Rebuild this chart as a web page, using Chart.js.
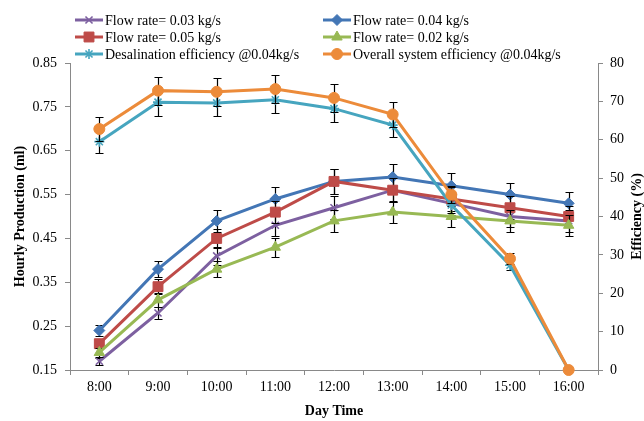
<!DOCTYPE html>
<html>
<head>
<meta charset="utf-8">
<title>Hourly production and efficiency</title>
<script src="https://cdn.jsdelivr.net/npm/chart.js@4.4.0/dist/chart.umd.min.js"></script>
<style>
  html, body { margin: 0; padding: 0; background: #fff; }
  #wrap { position: relative; width: 644px; height: 421px; }
</style>
</head>
<body>
<div id="wrap"><canvas id="production_chart"></canvas></div>
<script>
// Hours of the day (x axis)
var dayTimes = ['8:00', '9:00', '10:00', '11:00', '12:00', '13:00', '14:00', '15:00', '16:00'];

// Hourly production (ml) for each flow rate, left axis
var flow003 = [0.17, 0.28, 0.41, 0.48, 0.52, 0.56, 0.53, 0.50, 0.49];
var flow004 = [0.24, 0.38, 0.49, 0.54, 0.58, 0.59, 0.57, 0.55, 0.53];
var flow005 = [0.21, 0.34, 0.45, 0.51, 0.58, 0.56, 0.54, 0.52, 0.50];
var flow002 = [0.19, 0.31, 0.38, 0.43, 0.49, 0.51, 0.50, 0.49, 0.48];

// Efficiencies (%) at 0.04 kg/s, right axis
var desalEfficiency = [59.5, 69.8, 69.6, 70.4, 68.1, 63.8, 43.0, 27.3, 0];
var overallEfficiency = [62.8, 72.8, 72.5, 73.2, 70.9, 66.6, 45.7, 29.0, 0];

// Tick labels
var productionTicks = [0.15, 0.25, 0.35, 0.45, 0.55, 0.65, 0.75, 0.85];
var efficiencyTicks = [0, 10, 20, 30, 40, 50, 60, 70, 80];

// Percentage error bars on every point
var errorPercent = 5;

var serifFont = '"Liberation Serif", "Times New Roman", serif';
var axisGrey = '#898989';

function makeSeries(label, values, color, style, radius, axis, idx) {
    var stroked = (style === 'crossRot' || style === 'star');
    return {
        label: label,
        data: values,
        yAxisID: axis,
        borderColor: color,
        backgroundColor: color,
        borderWidth: 3,
        tension: 0,
        pointStyle: style,
        pointRadius: radius,
        pointHoverRadius: radius,
        pointBackgroundColor: color,
        pointBorderColor: color,
        pointBorderWidth: stroked ? 1.6 : 1,
        clip: false,
        order: 5 - idx
    };
}

var datasets = [
    makeSeries('Flow rate= 0.03 kg/s', flow003, '#7D60A0', 'crossRot', 5, 'y', 0),
    makeSeries('Flow rate= 0.04 kg/s', flow004, '#4376B5', 'rectRot', 5.5, 'y', 1),
    makeSeries('Flow rate= 0.05 kg/s', flow005, '#BE4B48', 'rect', 7, 'y', 2),
    makeSeries('Flow rate= 0.02 kg/s', flow002, '#98B954', 'triangle', 6, 'y', 3),
    makeSeries('Desalination efficiency @0.04kg/s', desalEfficiency, '#46A5BF', 'star', 5, 'y1', 4),
    makeSeries('Overall system efficiency @0.04kg/s', overallEfficiency, '#EC8B3A', 'circle', 5.5, 'y1', 5)
];

// Black error bars, drawn with each series so later series cover them
var errorBarsPlugin = {
    id: 'errorBars',
    beforeDatasetDraw: function (chart, args) {
        var ds = chart.data.datasets[args.index];
        var scale = chart.scales[ds.yAxisID];
        var ctx = chart.ctx;
        ctx.save();
        ctx.strokeStyle = '#000';
        ctx.lineWidth = 1.2;
        args.meta.data.forEach(function (pt, i) {
            var v = ds.data[i];
            if (!v) return;
            var delta = v * errorPercent / 100;
            var yTop = Math.round(scale.getPixelForValue(v + delta)) + 0.5;
            var yBot = Math.round(scale.getPixelForValue(v - delta)) + 0.5;
            var x = Math.round(pt.x) + 0.5;
            ctx.beginPath();
            ctx.moveTo(x, yTop); ctx.lineTo(x, yBot);
            ctx.moveTo(x - 4, yTop); ctx.lineTo(x + 4, yTop);
            ctx.moveTo(x - 4, yBot); ctx.lineTo(x + 4, yBot);
            ctx.stroke();
        });
        ctx.restore();
    }
};

// Two column legend at the top and the three axis titles
var decorPlugin = {
    id: 'decor',
    afterDraw: function (chart) {
        var ctx = chart.ctx;
        ctx.save();
        ctx.font = '14px ' + serifFont;
        ctx.textBaseline = 'middle';
        ctx.textAlign = 'left';
        var colX = [75, 323];
        var rowY = [20, 37, 54];
        chart.data.datasets.forEach(function (ds, i) {
            var x = colX[i % 2], y = rowY[Math.floor(i / 2)];
            ctx.strokeStyle = ds.borderColor;
            ctx.lineWidth = 3;
            ctx.beginPath();
            ctx.moveTo(x, y); ctx.lineTo(x + 28, y);
            ctx.stroke();
            ctx.fillStyle = ds.pointBackgroundColor;
            ctx.strokeStyle = ds.pointBorderColor;
            ctx.lineWidth = ds.pointBorderWidth;
            Chart.helpers.drawPoint(ctx, {
                pointStyle: ds.pointStyle,
                radius: ds.pointRadius,
                borderWidth: ds.pointBorderWidth,
                rotation: 0
            }, x + 14, y);
            ctx.fillStyle = '#000';
            ctx.fillText(ds.label, x + 30, y + 1);
        });

        var area = chart.chartArea;
        var midY = (area.top + area.bottom) / 2;
        ctx.font = 'bold 14px ' + serifFont;
        ctx.textAlign = 'center';
        ctx.fillStyle = '#000';
        ctx.fillText('Day Time', (area.left + area.right) / 2, 411);

        ctx.translate(20, midY);
        ctx.rotate(-Math.PI / 2);
        ctx.fillText('Hourly Production (ml)', 0, 0);
        ctx.rotate(Math.PI / 2);
        ctx.translate(-20, -midY);

        ctx.translate(637, midY);
        ctx.rotate(-Math.PI / 2);
        ctx.fillText('Efficiency (%)', 0, 0);
        ctx.restore();
    }
};

function fixedTicks(values) {
    return function (scale) {
        scale.ticks = values.map(function (v) { return { value: v }; });
    };
}

var ctx = document.getElementById('production_chart').getContext('2d');
var productionChart = new Chart(ctx, {
    type: 'line',
    data: { labels: dayTimes, datasets: datasets },
    plugins: [errorBarsPlugin, decorPlugin],
    options: {
        responsive: true,
        maintainAspectRatio: false,
        animation: false,
        devicePixelRatio: 1,
        layout: { padding: { top: 63, left: 0, right: 0, bottom: 0 } },
        plugins: {
            legend: { display: false },
            tooltip: { enabled: false }
        },
        scales: {
            x: {
                offset: true,
                grid: { offset: true, drawOnChartArea: false, drawTicks: true, tickLength: 5, color: axisGrey },
                border: { color: axisGrey, width: 1 },
                ticks: { color: '#000', font: { family: serifFont, size: 14 }, padding: 4, maxRotation: 0 },
                afterFit: function (s) { s.height = 51; }
            },
            y: {
                position: 'left',
                min: 0.15,
                max: 0.85,
                afterBuildTicks: fixedTicks(productionTicks),
                grid: { drawOnChartArea: false, tickLength: 5, color: axisGrey },
                border: { color: axisGrey, width: 1 },
                ticks: {
                    color: '#000', font: { family: serifFont, size: 14 }, padding: 8,
                    callback: function (v) { return Number(v).toFixed(2); }
                },
                afterFit: function (s) { s.width = 70; }
            },
            y1: {
                position: 'right',
                min: 0,
                max: 80,
                afterBuildTicks: fixedTicks(efficiencyTicks),
                grid: { drawOnChartArea: false, tickLength: 5, color: axisGrey },
                border: { color: axisGrey, width: 1 },
                ticks: { color: '#000', font: { family: serifFont, size: 14 }, padding: 7 },
                afterFit: function (s) { s.width = 46; }
            }
        }
    }
});
</script>
</body>
</html>
